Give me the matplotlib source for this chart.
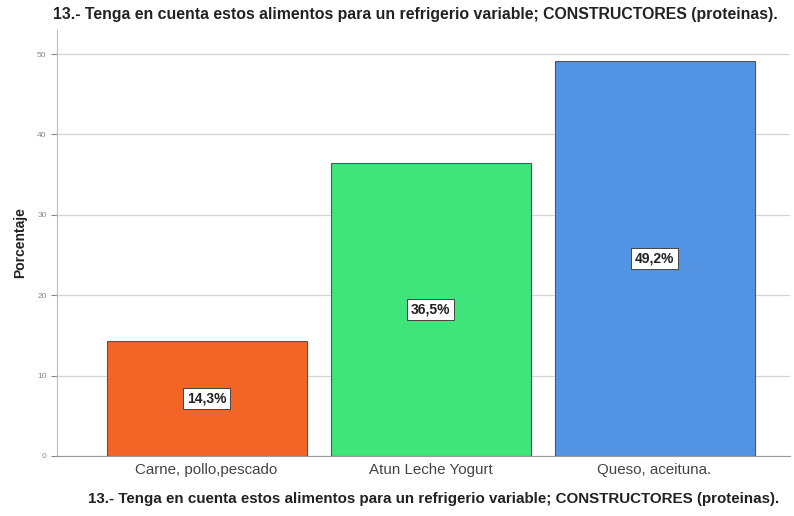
import matplotlib
matplotlib.use("Agg")
from matplotlib import pyplot as plt

categories = ["Carne, pollo,pescado", "Atun Leche Yogurt", "Queso, aceituna."]
percentages = [14.3, 36.5, 49.2]
bar_colors = ["#F26526", "#3FE57A", "#5393E3"]
title = "13.- Tenga en cuenta estos alimentos para un refrigerio variable; CONSTRUCTORES (proteinas)."

plt.rcParams['font.family'] = ['Liberation Sans', 'DejaVu Sans']

fig = plt.figure(figsize=(7.94, 5.16), dpi=100)
ax = fig.add_axes([57 / 794, 60 / 516, 733 / 794, 426 / 516])

x = list(range(len(categories)))
bars = ax.bar(x, percentages, width=0.893, color=bar_colors,
              edgecolor="#555555", linewidth=0.8, zorder=3)

for xi, val in zip(x, percentages):
    ax.text(xi, val / 2, f"{val:.1f}%".replace(".", ","), ha="center", va="center",
            fontsize=10, fontweight="bold", color="#222222", zorder=4,
            bbox=dict(boxstyle="square,pad=0.25", facecolor="white",
                      edgecolor="#444444", linewidth=0.7))

ax.set_xlim(-0.668, 2.605)
ax.set_ylim(0, 53)
ax.set_yticks([0, 10, 20, 30, 40, 50])
ax.yaxis.grid(True, color="#d4d4d4", linewidth=0.9, zorder=0)
ax.set_axisbelow(True)

ax.set_xticks(x)
ax.set_xticklabels(categories, fontsize=10.9, color="#444444")
ax.tick_params(axis="x", length=0, pad=5)
ax.tick_params(axis="y", labelsize=6, colors="#888888", length=4, width=0.8,
               labelcolor="#888888")

for side in ["top", "right"]:
    ax.spines[side].set_visible(False)
ax.spines["left"].set_color("#bbbbbb")
ax.spines["bottom"].set_color("#999999")

ax.set_ylabel("Porcentaje", fontsize=10, fontweight="bold", color="#222222", labelpad=7)
ax.set_xlabel(title, fontsize=10.9, fontweight="bold", color="#222222", labelpad=11)
ax.xaxis.label.set_x(0.514)
fig.text(0.523, 0.971, title, ha="center", va="center", fontsize=11.4,
         fontweight="bold", color="#222222")

fig.savefig("out.png", dpi=100)
